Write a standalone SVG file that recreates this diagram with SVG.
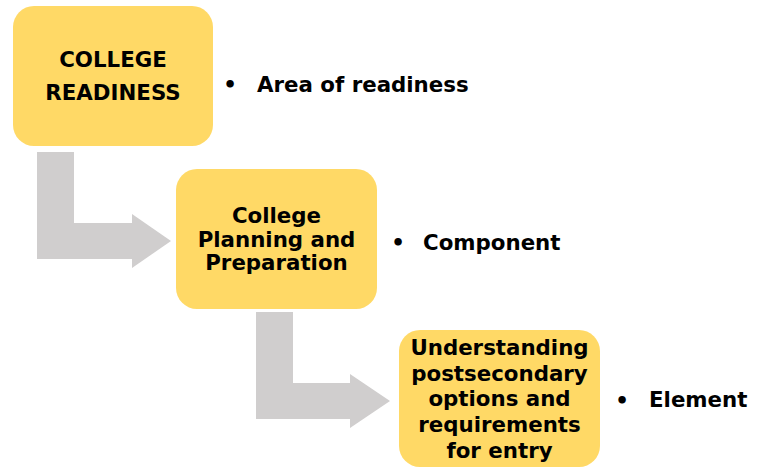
<svg xmlns="http://www.w3.org/2000/svg" width="764" height="468" viewBox="0 0 764 468">
  <style>
    .box { fill: #FFD966; }
    .arrow { fill: #D0CECE; }
    .t { font-family: "DejaVu Sans", Verdana, sans-serif; font-weight: bold; font-size: 21.33px; fill: #000; }
    .c { text-anchor: middle; }
  </style>
  <rect width="764" height="468" fill="#FFFFFF"/>
  <g id="connectors">
    <path class="arrow" d="M37,152 H74 V223 H132 V214 L171,241 L132,268 V259 H37 Z"/>
    <path class="arrow" d="M256,312 H293 V383 H350 V374 L390,401 L350,428 V419 H256 Z"/>
  </g>
  <g id="node-college-readiness">
    <rect class="box" x="13" y="6" width="200" height="140" rx="21" ry="21"/>
    <text class="t c" x="113" y="67">COLLEGE</text>
    <text class="t c" x="113" y="100">READINESS</text>
  </g>
  <g id="node-college-planning">
    <rect class="box" x="176" y="169" width="201" height="140" rx="21" ry="21"/>
    <text class="t c" x="276.5" y="223">College</text>
    <text class="t c" x="276.5" y="246.5">Planning and</text>
    <text class="t c" x="276.5" y="270">Preparation</text>
  </g>
  <g id="node-understanding">
    <rect class="box" x="399" y="330" width="201" height="137" rx="21" ry="21"/>
    <text class="t c" x="499.5" y="355">Understanding</text>
    <text class="t c" x="499.5" y="381">postsecondary</text>
    <text class="t c" x="499.5" y="406">options and</text>
    <text class="t c" x="499.5" y="431.5">requirements</text>
    <text class="t c" x="499.5" y="457.5">for entry</text>
  </g>
  <g id="label-area">
    <text class="t c" x="230" y="92">•</text>
    <text class="t" x="257" y="92">Area of readiness</text>
  </g>
  <g id="label-component">
    <text class="t c" x="398" y="250">•</text>
    <text class="t" x="423" y="250">Component</text>
  </g>
  <g id="label-element">
    <text class="t c" x="622" y="408">•</text>
    <text class="t" x="649" y="407">Element</text>
  </g>
</svg>
